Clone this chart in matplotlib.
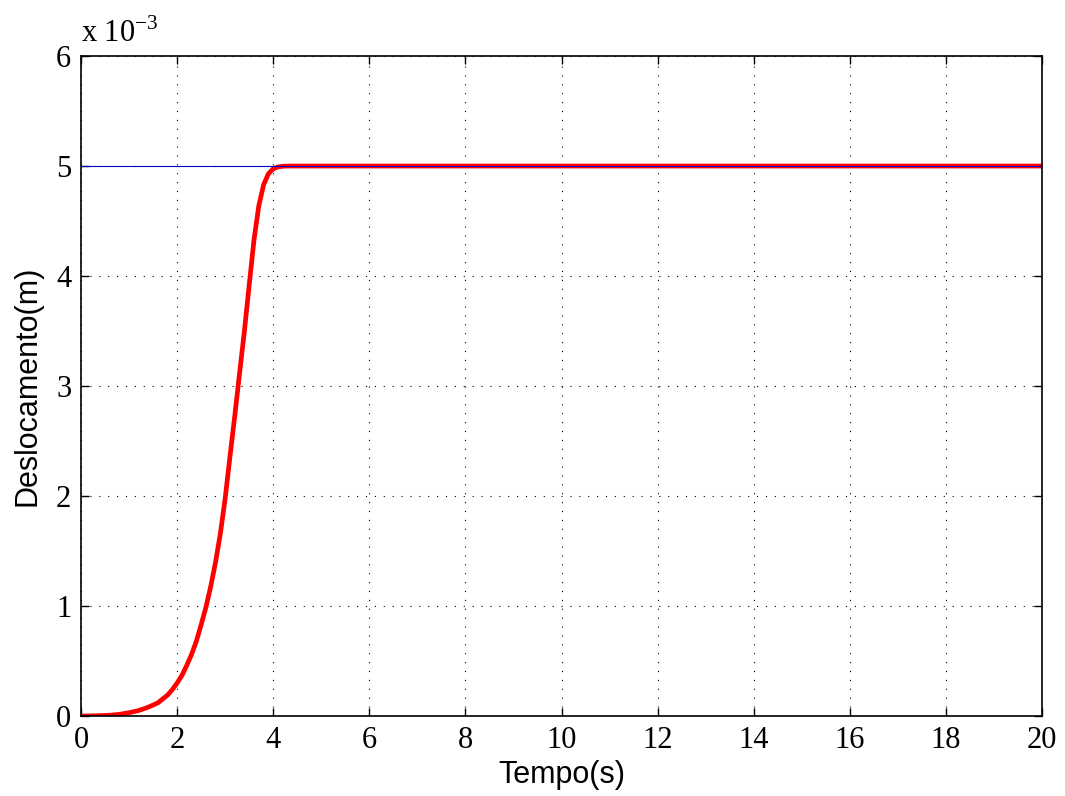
import matplotlib
matplotlib.use("Agg")
import matplotlib.pyplot as plt

# Reference displacement (constant setpoint) and system response, in metres
t_ref = [0.0, 20.0]
y_ref = [5.0e-3, 5.0e-3]

t_resp = [0.0, 0.2, 0.4, 0.6, 0.8, 1.0, 1.2, 1.4, 1.5, 1.6, 1.7, 1.8, 1.9,
          2.0, 2.1, 2.2, 2.3, 2.4, 2.5, 2.6, 2.7, 2.8, 2.9, 3.0, 3.1, 3.2,
          3.3, 3.4, 3.5, 3.6, 3.7, 3.8, 3.9, 4.0, 4.1, 4.2, 4.3, 20.0]
y_resp_milli = [0.0, 0.001, 0.003, 0.007, 0.015, 0.03, 0.05, 0.08, 0.10,
                0.12, 0.155, 0.19, 0.24, 0.30, 0.37, 0.46, 0.56, 0.68, 0.83,
                0.99, 1.18, 1.40, 1.66, 1.98, 2.36, 2.73, 3.12, 3.50, 3.92,
                4.33, 4.64, 4.83, 4.93, 4.975, 4.992, 4.998, 5.0, 5.0]
y_resp = [v * 1e-3 for v in y_resp_milli]

x_ticks = list(range(0, 21, 2))
y_ticks = [0, 1e-3, 2e-3, 3e-3, 4e-3, 5e-3, 6e-3]
y_tick_labels = ["0", "1", "2", "3", "4", "5", "6"]

serif = ["Liberation Serif", "DejaVu Serif"]
sans = ["Liberation Sans", "DejaVu Sans"]

fig = plt.figure(figsize=(10.65, 7.96), dpi=100)
ax = fig.add_axes([0.0761, 0.1005, 0.9023, 0.8291])

ax.plot(t_resp, y_resp, color="#ff0000", linewidth=3.4,
        solid_joinstyle="round", solid_capstyle="round")
ax.plot(t_ref, y_ref, color="#0000cc", linewidth=0.8)

ax.set_xlim(0, 20)
ax.set_ylim(0, 6e-3)
ax.set_xticks(x_ticks)
ax.set_xticklabels([str(v) for v in x_ticks], fontfamily=serif, fontsize=22)
ax.set_yticks(y_ticks)
ax.set_yticklabels(y_tick_labels, fontfamily=serif, fontsize=22)

ax.tick_params(direction="in", length=6, width=1, top=True, right=True,
               pad=7)
ax.grid(True, color="black", linestyle=(0, (1, 7)), linewidth=0.8)
for s in ax.spines.values():
    s.set_linewidth(1.2)

ax.set_xlabel("Tempo(s)", fontfamily=sans, fontsize=22, labelpad=4)
ax.set_ylabel("Deslocamento(m)", fontfamily=sans, fontsize=22, labelpad=10)

ax.text(0.0, 1.01, r"x 10$^{\mathregular{-3}}$", transform=ax.transAxes,
        fontfamily=serif, fontsize=22, ha="left", va="bottom")

fig.savefig("out.png", dpi=100)
